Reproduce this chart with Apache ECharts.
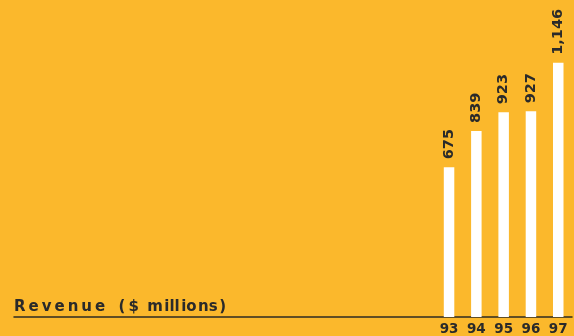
<!DOCTYPE html>
<html><head><meta charset="utf-8">
<script src="https://cdn.jsdelivr.net/npm/echarts@6/dist/echarts.min.js"></script>
<style>html,body{margin:0;padding:0;background:#FBB82C}#c{width:574px;height:336px}</style>
</head><body><div id="c"></div>
<script>
const categories = ['93', '94', '95', '96', '97'];
const revenue = [675, 839, 923, 927, 1146];
const revenueLabels = ['675', '839', '923', '927', '1,146'];
const titleText = 'R\u2009e\u2009v\u2009e\u2009n\u2009u\u2009e  \u2009(\u2009$ \u2009m\u200Aill\u200Aio\u200Ans\u200A)';

const chart = echarts.init(document.getElementById('c'));
const font = '"DejaVu Sans", sans-serif';
chart.setOption({
  backgroundColor: '#FBB82C',
  animation: false,
  title: {
    text: titleText, left: 14, top: 299.2, padding: 0,
    textStyle: { fontFamily: font, fontWeight: 'bold', fontSize: 15, color: '#2a2a2a' }
  },
  grid: [
    { left: 435.4, width: 136.5, top: 50.8, bottom: 19 },
    { left: 14, right: 2, top: 50.8, bottom: 19 }
  ],
  xAxis: [
    { type: 'category', gridIndex: 0, data: categories,
      axisLine: { show: false }, axisTick: { show: false },
      axisLabel: { margin: 5, fontFamily: font, fontWeight: 'bold', fontSize: 13.5, color: '#2a2a2a' } },
    { type: 'value', gridIndex: 1, min: 0, max: 1,
      axisLine: { show: true, lineStyle: { color: '#2e2a20', width: 1.5 } },
      axisTick: { show: false }, axisLabel: { show: false }, splitLine: { show: false } }
  ],
  yAxis: [
    { type: 'value', gridIndex: 0, min: 0, max: 1200, show: false, splitLine: { show: false } },
    { type: 'value', gridIndex: 1, min: 0, max: 1, show: false, splitLine: { show: false } }
  ],
  series: [{
    type: 'bar', xAxisIndex: 0, yAxisIndex: 0, data: revenue, barWidth: 10.5,
    itemStyle: { color: '#ffffff' },
    label: {
      show: true, position: 'top', distance: 8, rotate: 90, align: 'left', verticalAlign: 'middle',
      fontFamily: font, fontWeight: 'bold', fontSize: 14.5, color: '#2a2a2a',
      formatter: p => revenueLabels[p.dataIndex]
    }
  }]
});
</script></body></html>
